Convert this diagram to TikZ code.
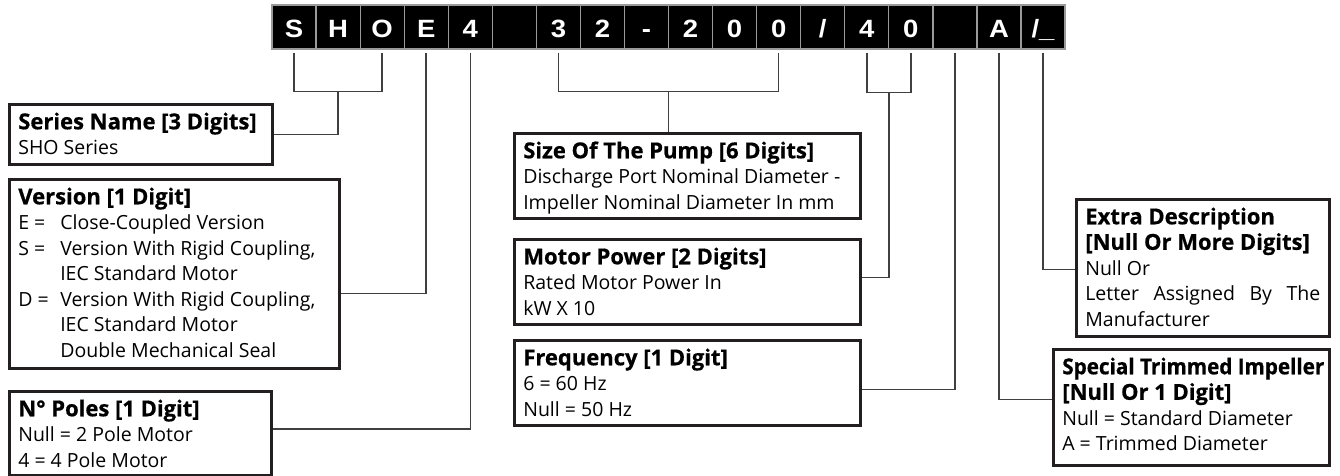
\documentclass[tikz,border=0pt]{standalone}
\usepackage{fontspec}
\usepackage{graphicx}
\setmainfont{Open Sans}
\newfontfamily\cellfont{Liberation Sans}
\newfontfamily\titlefam{Open Sans}[BoldFeatures={FakeBold=0.6}]
\definecolor{boxline}{HTML}{231F20}
\definecolor{connline}{HTML}{404040}
\definecolor{cellgray}{HTML}{9A9A9A}
\newcommand\titlef{\titlefam\bfseries\fontsize{22}{25.5}\selectfont}
\newcommand\boxbody[3]{\parbox[t][#2][t]{#1}{\fontsize{19.5}{25.5}\selectfont\rule{0pt}{25pt}#3}}
\newcommand\hang[1]{\makebox[42pt][l]{#1}}
\begin{document}
\begin{tikzpicture}[x=1pt,y=-1pt,
  cell/.style={draw=cellgray, line width=1.2pt, fill=black, text=white,
    minimum width=44.06pt, minimum height=44pt, inner sep=0pt,
    text height=20.5pt, text depth=0pt,
    font=\cellfont\bfseries\fontsize{25}{25}\selectfont},
  infobox/.style={draw=boxline, line width=2.6pt, inner xsep=9pt, inner ysep=0pt,
    anchor=north west, align=left, fill=white},
  conn/.style={draw=connline, line width=1.5pt}
]
\useasboundingbox (0,0) rectangle (1340,476);
\fill[white] (0,0) rectangle (1340,476);

% header cells
\foreach \t [count=\i from 0] in {S,H,O,E,4,{},3,2,-,2,0,0,/,4,0,{},A,/\_}
  \node[cell] (c\i) at ({272+44.06*(\i+0.5)},27) {\scalebox{1.1}[1]{\t}};

% boxes
\node[infobox] (series) at (8,103) {\boxbody{245pt}{60pt}{{\titlef Series Name [3 Digits]}\\SHO Series}};
\node[infobox] (version) at (8,178) {\boxbody{312pt}{189pt}{{\titlef Version [1 Digit]}\\
  \hang{E =}Close-Coupled Version\\
  \hang{S =}Version With Rigid Coupling,\\
  \hang{}IEC Standard Motor\\
  \hang{D =}Version With Rigid Coupling,\\
  \hang{}IEC Standard Motor\\
  \hang{}Double Mechanical Seal}};
\node[infobox] (poles) at (8,390) {\boxbody{244pt}{84pt}{{\titlef N° Poles [1 Digit]}\\Null = 2 Pole Motor\\4 = 4 Pole Motor}};
\node[infobox] (size) at (513,132) {\boxbody{328pt}{85pt}{{\titlef Size Of The Pump [6 Digits]}\\Discharge Port Nominal Diameter -\\Impeller Nominal Diameter In mm}};
\node[infobox] (motor) at (513,238) {\boxbody{328pt}{85pt}{{\titlef Motor Power [2 Digits]}\\Rated Motor Power In\\kW X 10}};
\node[infobox] (freq) at (513,339) {\boxbody{328pt}{85pt}{{\titlef Frequency [1 Digit]}\\6 = 60 Hz\\Null = 50 Hz}};
\node[infobox] (extra) at (1075,198) {\boxbody{235pt}{137pt}{{\titlef Extra Description}\\{\titlef [Null Or More Digits]}\\Null Or\\\makebox[\linewidth][s]{Letter Assigned By The}\\Manufacturer}};
\node[infobox] (special) at (1052,348) {\boxbody{258pt}{116pt}{\makebox[\linewidth][l]{\resizebox{262pt}{\height}{\titlef Special Trimmed Impeller}}\\{\titlef [Null Or 1 Digit]}\\Null = Standard Diameter\\A = Trimmed Diameter}};

% connectors
\draw[conn] ([yshift=-3pt]c0.south) |- coordinate[pos=0.75] (sbm) ([yshift=-42pt]c2.south) -- ([yshift=-3pt]c2.south);
\draw[conn] (sbm) |- (series.east);
\draw[conn] ([yshift=-3pt]c3.south) |- ([yshift=-19.5pt]version.east);
\draw[conn] ([yshift=-3pt]c4.south) |- ([yshift=4.5pt]poles.east);
\draw[conn] ([yshift=-3pt]c6.south) |- coordinate[pos=0.75] (szm) ([yshift=-42pt]c11.south) -- ([yshift=-3pt]c11.south);
\draw[conn] (szm) -- (szm |- size.north);
\draw[conn] ([yshift=-3pt]c13.south) |- coordinate[pos=0.75] (mpm) ([yshift=-43pt]c14.south) -- ([yshift=-3pt]c14.south);
\draw[conn] (mpm) |- ([yshift=4.5pt]motor.east);
\draw[conn] ([yshift=-3pt]c15.south) |- ([yshift=-6.5pt]freq.east);
\draw[conn] ([yshift=-3pt]c16.south) |- ([yshift=8pt]special.west);
\draw[conn] ([yshift=-3pt]c17.south) |- ([yshift=-1.5pt]extra.west);
\end{tikzpicture}
\end{document}
